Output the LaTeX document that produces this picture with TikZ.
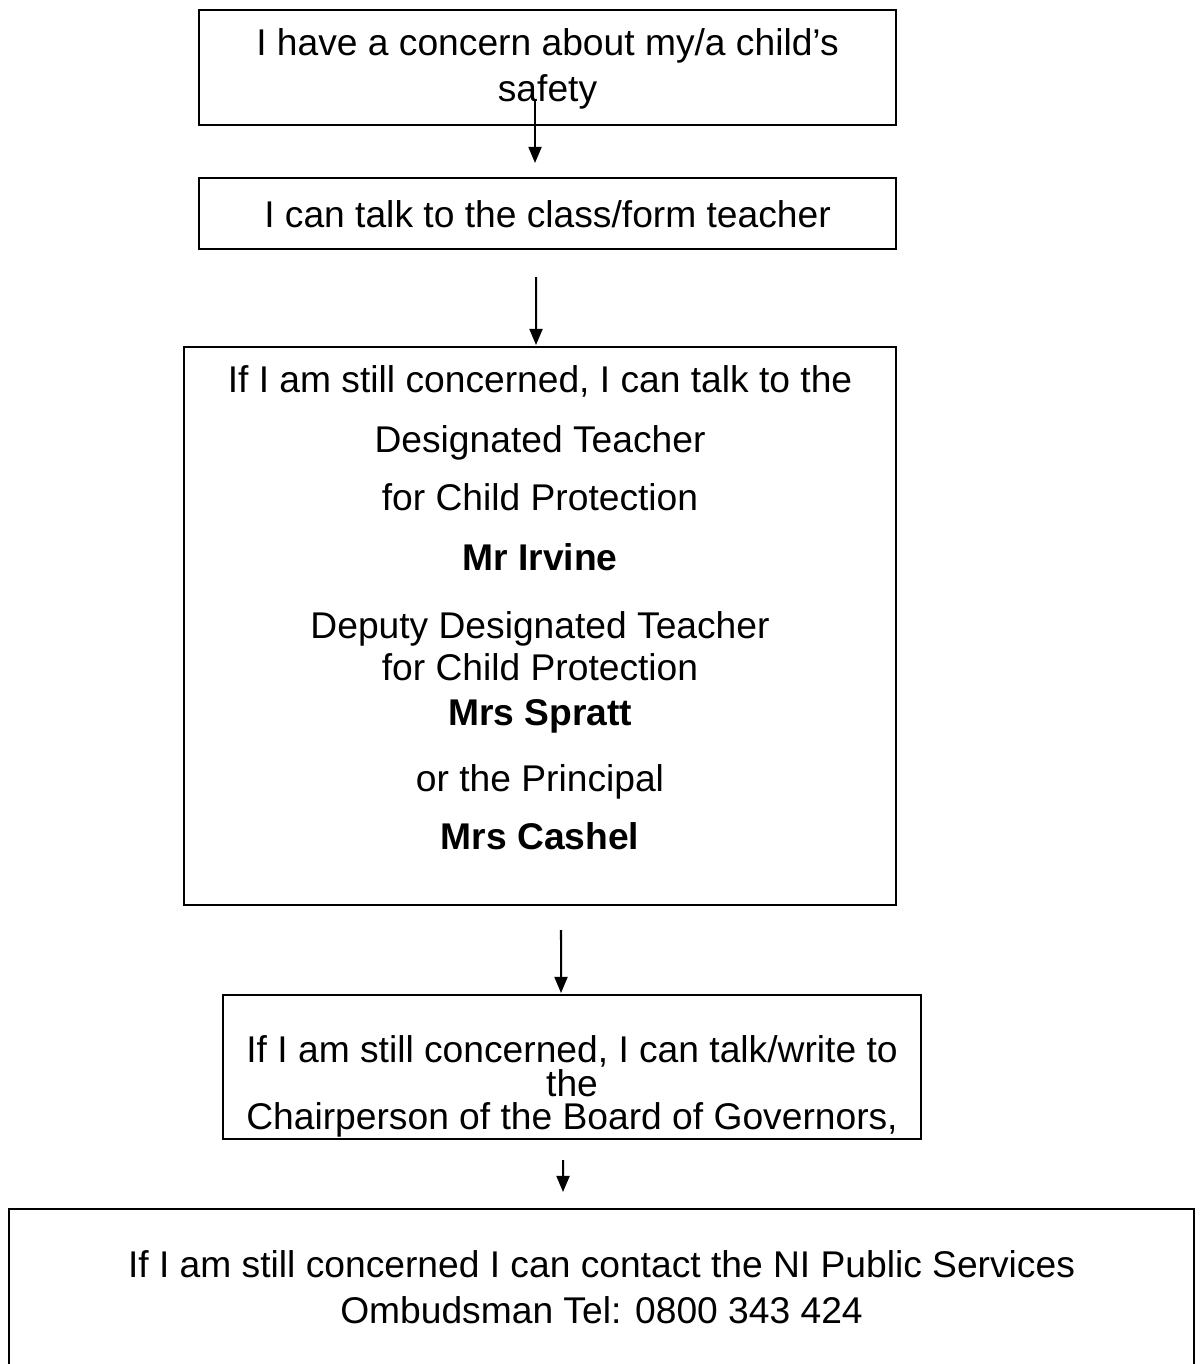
\documentclass[tikz,border=0pt]{standalone}
\usepackage{fontspec}
\setmainfont{Liberation Sans}
\usetikzlibrary{arrows.meta}
\newlength{\px}
\setlength{\px}{0.3226pt}

\begin{document}
\begin{tikzpicture}[x=0.3226pt, y=-0.3226pt,
        block/.style = {rectangle, draw, line width=0.65pt, inner sep=0pt, anchor=north west,
                        font=\fontsize{12pt}{14pt}\selectfont}, % framed text box
        arrow/.style = {draw, line width=0.65pt, -{Triangle[length=5.2pt, width=4.2pt]}} % Style for the arrows
    ]
    \path[use as bounding box, clip] (0,0) rectangle (1203,1364);

    \node[block] (concern) at (198,9) {\parbox[t][115\px][t]{697\px}{\centering\vspace*{15.6\px}%
        \strut I have a concern about my/a child’s\\[2.6\px]
        safety}};

    \node[block] (teacher) at (198,177) {\parbox[t][71\px][t]{697\px}{\centering\vspace*{19.6\px}%
        \strut I can talk to the class/form teacher}};

    % --- Designated teachers ---
    \node[block] (designated) at (183,346) {\parbox[t][558\px][t]{712\px}{\centering\vspace*{15.6\px}%
        \strut If I am still concerned, I can talk to the\\[16.6\px]
        Designated Teacher\\[14.6\px]
        for Child Protection\\[16.6\px]
        \textbf{Mr Irvine}\\[24.6\px]
        Deputy Designated Teacher\\[-1.4\px]
        for Child Protection\\[1.6\px]
        \textbf{Mrs Spratt}\\[22.6\px]
        or the Principal\\[14.6\px]
        \textbf{Mrs Cashel}}};

    \node[block] (governors) at (222,994) {\parbox[t][144\px][t]{698\px}{\centering\vspace*{37.6\px}%
        \strut If I am still concerned, I can talk/write to\\[-9.4\px]
        the\\[-10.4\px]
        Chairperson of the Board of Governors,}};

    % --- Ombudsman (runs off the page) ---
    \node[block] (ombudsman) at (8,1208) {\parbox[t][200\px][t]{1185\px}{\centering\vspace*{37.6\px}%
        \strut If I am still concerned I can contact the NI Public Services\\[3.6\px]
        Ombudsman Tel: 0800 343 424}};

    % Arrows
    \draw[arrow] ([xshift=-4.03pt, yshift=8.71pt]concern.south) -- ([xshift=-4.03pt, yshift=4.52pt]teacher.north);
    \draw[arrow] ([xshift=-3.71pt, yshift=-8.71pt]teacher.south) -- ([xshift=-1.29pt, yshift=0.32pt]designated.north);
    \draw[arrow] ([xshift=6.77pt, yshift=-7.74pt]designated.south) -- ([xshift=-3.55pt, yshift=0.32pt]governors.north);
    \draw[arrow] ([xshift=-2.90pt, yshift=-6.45pt]governors.south) -- ([xshift=-12.42pt, yshift=5.16pt]ombudsman.north);

\end{tikzpicture}
\end{document}
